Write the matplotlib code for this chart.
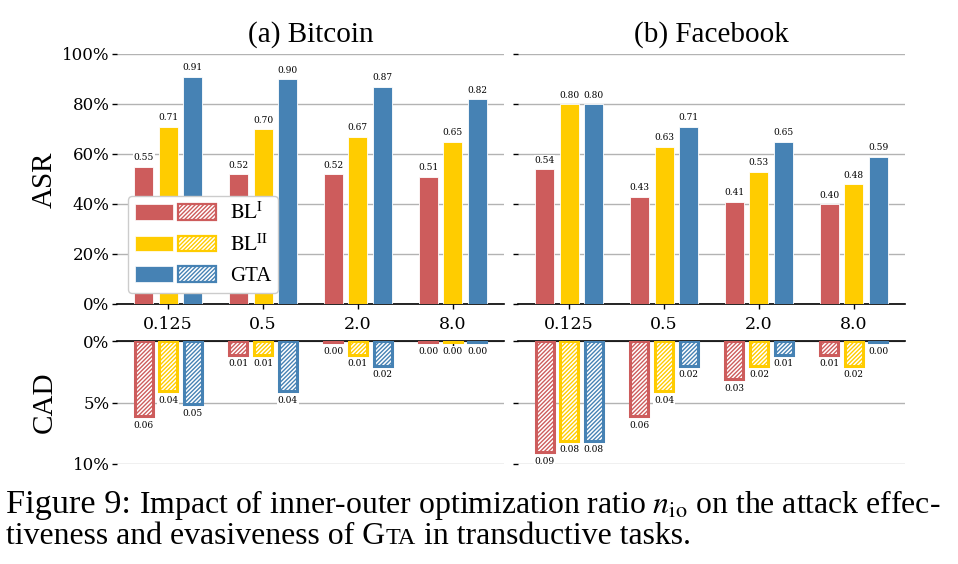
import matplotlib
matplotlib.use('Agg')
import matplotlib.pyplot as plt
import numpy as np
from matplotlib.legend_handler import HandlerTuple
from matplotlib.patches import Patch
from matplotlib.ticker import PercentFormatter

plt.rcParams['font.family'] = ['DejaVu Serif']
plt.rcParams['mathtext.fontset'] = 'stix'
plt.rcParams['hatch.linewidth'] = 1.0

# ---------------- data ----------------
ratios = ['0.125', '0.5', '2.0', '8.0']
methods = [r'$\mathrm{BL}^{\mathrm{I}}$', r'$\mathrm{BL}^{\mathrm{II}}$', 'GTA']
colors = ['#CD5C5C', '#FFCC00', '#4682B4']
panel_titles = ['(a) Bitcoin', '(b) Facebook']

btc_asr_bl1 = [0.55, 0.52, 0.52, 0.51]
btc_asr_bl2 = [0.71, 0.70, 0.67, 0.65]
btc_asr_gta = [0.91, 0.90, 0.87, 0.82]
btc_cad_bl1 = [0.061, 0.011, 0.001, 0.001]
btc_cad_bl2 = [0.041, 0.011, 0.011, 0.001]
btc_cad_gta = [0.051, 0.041, 0.020, 0.001]

fb_asr_bl1 = [0.54, 0.43, 0.41, 0.40]
fb_asr_bl2 = [0.80, 0.63, 0.53, 0.48]
fb_asr_gta = [0.80, 0.71, 0.65, 0.59]
fb_cad_bl1 = [0.090, 0.061, 0.031, 0.011]
fb_cad_bl2 = [0.081, 0.041, 0.020, 0.020]
fb_cad_gta = [0.081, 0.020, 0.011, 0.001]

asr_data = [[btc_asr_bl1, btc_asr_bl2, btc_asr_gta], [fb_asr_bl1, fb_asr_bl2, fb_asr_gta]]
cad_data = [[btc_cad_bl1, btc_cad_bl2, btc_cad_gta], [fb_cad_bl1, fb_cad_bl2, fb_cad_gta]]

W, H = 958, 564
fig = plt.figure(figsize=(W / 100, H / 100), dpi=100)

lefts = [117 / W, 518 / W]
width = 387 / W
top_pos = (1 - 304 / H, 250 / H)
bot_pos = (1 - 464 / H, 123 / H)

x = np.arange(len(ratios))
offsets = [-0.26, 0.0, 0.26]
bw = 0.2
SERIF = 'Liberation Serif'
GRID = '#b3b3b3'

for p in range(2):
    axt = fig.add_axes([lefts[p], top_pos[0], width, top_pos[1]])
    axb = fig.add_axes([lefts[p], bot_pos[0], width, bot_pos[1]])

    # --- top: ASR ---
    for k in range(3):
        vals = asr_data[p][k]
        axt.bar(x + offsets[k], vals, width=bw, color=colors[k], edgecolor='white',
                linewidth=0.6, zorder=3)
        for xi, v in zip(x + offsets[k], vals):
            axt.annotate(f'{v:.2f}', (xi, v), xytext=(0, 3), textcoords='offset points',
                         ha='center', va='bottom', fontsize=6.5, zorder=4,
                         bbox=dict(fc='white', ec='none', pad=0.6))
    axt.set_xlim(-0.54, 3.54)
    axt.set_ylim(0, 1.0)
    axt.set_yticks([0, 0.2, 0.4, 0.6, 0.8, 1.0])
    axt.yaxis.set_major_formatter(PercentFormatter(1.0, decimals=0))
    axt.set_xticks(x)
    axt.set_xticklabels(ratios)
    axt.yaxis.grid(True, color=GRID, linewidth=1.0)
    axt.set_axisbelow(True)
    for s in ['top', 'left', 'right']:
        axt.spines[s].set_visible(False)
    axt.spines['bottom'].set_color('black')
    axt.spines['bottom'].set_linewidth(1.2)
    axt.tick_params(axis='y', length=3.5, width=1, labelsize=12, pad=2)
    axt.tick_params(axis='x', length=3.5, width=1, labelsize=12.5, pad=5)
    axt.set_title(panel_titles[p], family=SERIF, fontsize=21, pad=9)
    if p == 1:
        axt.tick_params(axis='y', labelleft=False)

    # --- bottom: CAD ---
    for k in range(3):
        vals = cad_data[p][k]
        axb.bar(x + offsets[k], vals, width=bw * 0.95, facecolor='white', edgecolor=colors[k],
                hatch='////////', linewidth=2.2, zorder=3)
        for xi, v in zip(x + offsets[k], vals):
            axb.annotate(f'{v:.2f}', (xi, v), xytext=(0, -3.5), textcoords='offset points',
                         ha='center', va='top', fontsize=6.5, zorder=4,
                         bbox=dict(fc='white', ec='none', pad=0.6))
    axb.set_xlim(-0.54, 3.54)
    axb.set_ylim(0.1, 0)
    axb.set_yticks([0, 0.05, 0.1])
    axb.yaxis.set_major_formatter(PercentFormatter(1.0, decimals=0))
    axb.xaxis.tick_top()
    axb.set_xticks(x)
    axb.tick_params(axis='x', labeltop=False, labelbottom=False, length=3.5, width=1, direction='in')
    axb.yaxis.grid(True, color=GRID, linewidth=1.0)
    axb.set_axisbelow(True)
    for s in ['bottom', 'left', 'right']:
        axb.spines[s].set_visible(False)
    axb.spines['top'].set_color('black')
    axb.spines['top'].set_linewidth(1.2)
    axb.tick_params(axis='y', length=3.5, width=1, labelsize=12, pad=2)
    if p == 1:
        axb.tick_params(axis='y', labelleft=False)

    if p == 0:
        handles = [(Patch(fc=c, ec='white', lw=0.5),
                    Patch(fc='white', ec=c, hatch='////////', lw=1.6)) for c in colors]
        leg = axt.legend(handles, methods,
                         handler_map={tuple: HandlerTuple(ndivide=None, pad=0.25)},
                         loc='lower left', bbox_to_anchor=(0.028, 0.044), borderaxespad=0,
                         prop={'family': SERIF, 'size': 15}, handlelength=3.9,
                         handleheight=0.75, labelspacing=0.5, handletextpad=0.7,
                         fancybox=True, framealpha=1, borderpad=0.32)
        leg.get_frame().set_edgecolor('#cccccc')

fig.text(45 / W, 1 - 180 / H, 'ASR', rotation=90, ha='center', va='center',
         family=SERIF, fontsize=21)
fig.text(45 / W, 1 - 402 / H, 'CAD', rotation=90, ha='center', va='center',
         family=SERIF, fontsize=21)

# ---------------- caption ----------------
renderer = fig.canvas.get_renderer()


def place_segments(segments, x0_px, y_px):
    xcur = x0_px
    arts = []
    for txt, size, gap in segments:
        xcur += gap * size * 100 / 72
        t = fig.text(xcur / W, 1 - y_px / H, txt, fontsize=size, family=SERIF,
                     va='baseline', ha='left')
        bb = t.get_window_extent(renderer)
        xcur = bb.x1
        arts.append(t)
    return arts, xcur


fs = 20
line1 = [('Figure 9:', fs * 1.08, 0),
         (r'Impact of inner-outer optimization ratio $n_{\mathrm{io}}$ on the attack effec-', fs, 0.25)]
arts, xend = place_segments(line1, 6, 513)
scale = (940 - 6) / (xend - 6)
for a in arts:
    a.remove()
fs = fs * scale
line1 = [('Figure 9:', fs * 1.08, 0),
         (r'Impact of inner-outer optimization ratio $n_{\mathrm{io}}$ on the attack effec-', fs, 0.25)]
place_segments(line1, 6, 513)
line2 = [('tiveness and evasiveness of G', fs, 0),
         ('TA', fs * 0.76, 0.03),
         ('in transductive tasks.', fs, 0.25)]
place_segments(line2, 6, 544)

fig.savefig('out.png', dpi=100)
